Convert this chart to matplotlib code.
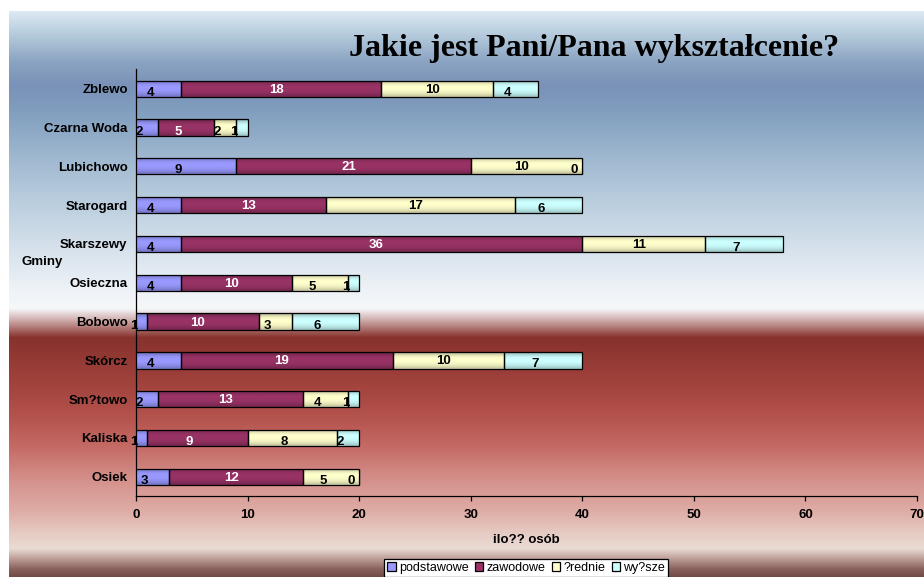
import numpy as np
import matplotlib
matplotlib.use("Agg")
import matplotlib.pyplot as plt
from matplotlib.patches import Patch
from matplotlib.colors import to_rgb

# ---- data ----
categories = ["Zblewo", "Czarna Woda", "Lubichowo", "Starogard", "Skarszewy",
              "Osieczna", "Bobowo", "Skórcz", "Sm?towo", "Kaliska", "Osiek"]
podstawowe = [4, 2, 9, 4, 4, 4, 1, 4, 2, 1, 3]
zawodowe = [18, 5, 21, 13, 36, 10, 10, 19, 13, 9, 12]
srednie = [10, 2, 10, 17, 11, 5, 3, 10, 4, 8, 5]
wyzsze = [4, 1, 0, 6, 7, 1, 6, 7, 1, 2, 0]
series_names = ["podstawowe", "zawodowe", "?rednie", "wy?sze"]
series_values = [podstawowe, zawodowe, srednie, wyzsze]
series_colors = ["#9999ff", "#993366", "#ffffcc", "#ccffff"]
label_colors = ["black", "white", "black", "black"]
x_ticks = [0, 10, 20, 30, 40, 50, 60, 70]

W, H = 924, 577
DPI = 100
plt.rcParams['font.family'] = ['Liberation Sans', 'DejaVu Sans']

fig = plt.figure(figsize=(W / DPI, H / DPI), dpi=DPI)
fig.patch.set_facecolor("white")

# ---- background gradient ----
bg_left, bg_top = 9, 11
bg = fig.add_axes([bg_left / W, 0, 1 - bg_left / W, 1 - bg_top / H], zorder=0)
bg.set_axis_off()
stops = [
    (11, (221, 233, 243)),
    (35, (180, 202, 220)),
    (60, (140, 165, 195)),
    (85, (122, 145, 184)),
    (110, (128, 158, 190)),
    (150, (155, 180, 205)),
    (200, (185, 205, 222)),
    (250, (215, 226, 236)),
    (290, (238, 243, 247)),
    (308, (246, 247, 249)),
    (320, (205, 170, 168)),
    (337, (135, 50, 45)),
    (380, (160, 65, 60)),
    (415, (180, 82, 76)),
    (445, (196, 105, 100)),
    (480, (213, 145, 140)),
    (510, (222, 172, 165)),
    (530, (229, 200, 192)),
    (548, (233, 220, 212)),
    (558, (190, 160, 152)),
    (568, (140, 100, 95)),
    (577, (112, 72, 66)),
]
ys = np.arange(bg_top, H)
grad = np.zeros((len(ys), 1, 3))
sy = np.array([s[0] for s in stops], float)
for c in range(3):
    grad[:, 0, c] = np.interp(ys, sy, [s[1][c] for s in stops]) / 255.0
bg.imshow(grad, aspect="auto", extent=[0, 1, 0, 1], interpolation="bilinear")
bg.set_xlim(0, 1)
bg.set_ylim(0, 1)

# ---- main axes ----
ax_l, ax_r, ax_t, ax_b = 136, 917, 69.3, 496.2
ax = fig.add_axes([ax_l / W, 1 - ax_b / H, (ax_r - ax_l) / W, (ax_b - ax_t) / H], zorder=2)
ax.patch.set_alpha(0)

# vertical shading profile for bars (top -> bottom)
shade = np.array([0.72, 0.86, 0.96, 1.0, 1.0, 0.98, 0.94, 0.88, 0.78])

y = np.arange(len(categories))
left = np.zeros(len(categories))
for name, vals, col, lcol in zip(series_names, series_values, series_colors, label_colors):
    vals = np.array(vals, float)
    b = ax.barh(y, vals, left=left, height=0.42, color=col, edgecolor="black",
                linewidth=0.9, label=name, zorder=3)
    rgb = np.array(to_rgb(col))
    img = np.clip(shade[:, None, None] * rgb[None, None, :], 0, 1)
    for p in b.patches:
        if p.get_width() <= 0:
            continue
        x0, y0 = p.get_x(), p.get_y()
        w, h = p.get_width(), p.get_height()
        im = ax.imshow(img, extent=[x0, x0 + w, y0 + h, y0], aspect="auto",
                       interpolation="bilinear", zorder=3.2)
        im.set_clip_path(p)
        p.set_facecolor("none")
        p.set_zorder(3.5)
    for yi, li, v in zip(y, left, vals):
        txt = f"{int(v)}"
        if len(txt) == 1:
            off = (-8, -4)
        else:
            off = (-5, -1)
        ax.annotate(txt, (li + v / 2, yi), xytext=off, textcoords="offset pixels",
                    ha="center", va="center", fontsize=9.5, fontweight="bold",
                    color=lcol, zorder=5, annotation_clip=False)
    left = left + vals

ax.set_ylim(len(categories) - 0.5, -0.5)
ax.set_xlim(0, 70)
ax.set_aspect("auto")
ax.set_xticks(x_ticks)
ax.set_yticks(y)
ax.set_yticklabels(categories, fontsize=9.5, fontweight="bold")
ax.tick_params(axis="y", length=0, pad=6)
ax.tick_params(axis="x", direction="out", length=3.5, width=0.9, pad=6, labelsize=9.5)
for lab in ax.get_xticklabels():
    lab.set_fontweight("bold")
for s in ["top", "right"]:
    ax.spines[s].set_visible(False)
ax.spines["left"].set_linewidth(0.9)
ax.spines["bottom"].set_linewidth(0.9)
ax.set_xlabel("ilo?? osób", fontsize=9.5, fontweight="bold", labelpad=9)

fig.text(22 / W, 1 - 262 / H, "Gminy", fontsize=9.5, fontweight="bold",
         ha="left", va="center", zorder=5)

fig.text(594 / W, 1 - 56 / H, "Jakie jest Pani/Pana wykształcenie?",
         fontsize=23, fontweight="bold", family=["Liberation Serif", "DejaVu Serif"],
         ha="center", va="baseline", zorder=5)

handles = [Patch(facecolor=c, edgecolor="black", linewidth=0.9) for c in series_colors]
leg = fig.legend(handles=handles, labels=series_names, loc="upper center",
                 bbox_to_anchor=(526 / W, 1 - 559 / H), ncol=4, fontsize=9,
                 frameon=True, fancybox=False, shadow=False, handlelength=0.7,
                 handleheight=0.7, handletextpad=0.25, columnspacing=0.5,
                 borderpad=0.25, borderaxespad=0)
leg.get_frame().set_edgecolor("black")
leg.get_frame().set_facecolor("white")
leg.get_frame().set_alpha(1)
leg.get_frame().set_linewidth(0.9)
leg.set_zorder(6)

fig.savefig("out.png", dpi=DPI)
